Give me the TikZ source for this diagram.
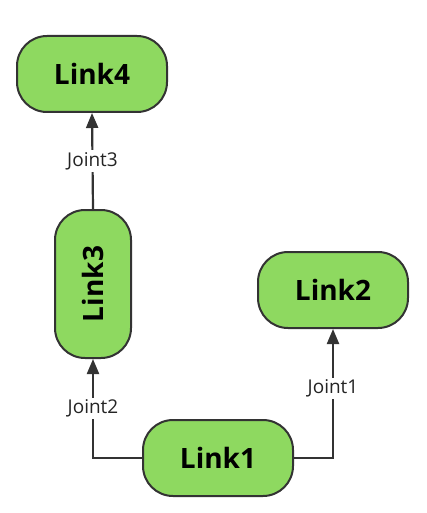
\documentclass[tikz,border=0pt]{standalone}
\usepackage{fontspec}
\setmainfont{Open Sans}
\usetikzlibrary{arrows.meta}
\definecolor{linkgreen}{RGB}{142,217,96}
\definecolor{edgegray}{RGB}{51,51,51}

\begin{document}
\begin{tikzpicture}[x=1pt,y=-1pt,
    link/.style={draw=edgegray,line width=2pt,fill=linkgreen,rounded corners=30pt,
	minimum width=150pt,minimum height=76pt,font=\fontsize{28}{30}\selectfont\bfseries},
    joint/.style={fill=white,inner sep=2pt,font=\fontsize{19}{21}\selectfont,text=edgegray!70!black},
    arr/.style={draw=edgegray,line width=2.2pt,-{Triangle[length=15pt,width=12pt]}}]
\useasboundingbox (0,0) rectangle (427,513);
\node (l4) [link] at (92,74) {Link4};
\node (l3) [link,minimum width=76pt,minimum height=148pt] at (93,284) {\rotatebox{90}{Link3}};
\node (l2) [link] at (333,290) {Link2};
\node (l1) [link] at (218,458) {Link1};
\draw [arr] (l1.west) -| node [joint,pos=.75] {Joint2} (l3.south);
\draw [arr] (l1.east) -| node [joint,pos=.77] {Joint1} (l2.south);
\draw [arr] (l3.north) -- node [joint,midway] {Joint3} (l4.south);
\end{tikzpicture}
\end{document}
